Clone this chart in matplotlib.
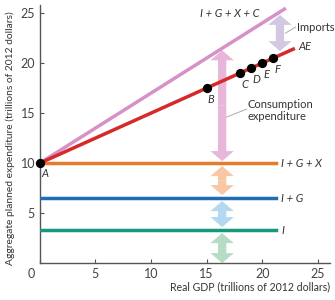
import numpy as np
import matplotlib.pyplot as plt
import matplotlib.transforms as mtransforms

# aggregate expenditure model (trillions of 2012 dollars)
gdp_end = 22.8
ae_intercept = 10.0
ae_slope = 0.5           # AE line
total_slope = 0.7        # I + G + X + C line
total_end = 22.0
invest = 3.3             # I
invest_gov = 6.5         # I + G
invest_gov_exp = 10.0    # I + G + X
flat_end = 21.2
pt_labels = ['B', 'C', 'D', 'E', 'F']
pt_gdp = [15, 18, 19, 20, 21]

red = '#d62a2a'
pink = '#d890c8'
orange = '#e57b2c'
blue = '#1f6db4'
green = '#17977e'
grey = '#555555'
txt = '#333333'

plt.rcParams['font.family'] = ['Lato', 'DejaVu Sans']
fig = plt.figure(figsize=(3.35, 3.0), dpi=100)
ax = fig.add_axes([0.119, 0.123, 0.866, 0.86])

def darrow(x, y0, y1, color, w=0.75, hw=2.1, hl=1.0):
    mid = (y0 + y1) / 2
    for end in (y0, y1):
        ax.arrow(x, mid, 0, end - mid, width=w, head_width=hw, head_length=hl,
                 length_includes_head=True, color=color, lw=0, zorder=1)

# horizontal lines
ax.plot([0, flat_end], [invest, invest], color=green, lw=2.5, zorder=3)
ax.plot([0, flat_end], [invest_gov, invest_gov], color=blue, lw=2.5, zorder=3)
ax.plot([0, flat_end], [invest_gov_exp, invest_gov_exp], color=orange, lw=2.5, zorder=3)

# sloped lines
ax.plot([0, total_end], [ae_intercept, ae_intercept + total_slope * total_end],
        color=pink, lw=2.5, zorder=3)
ax.plot([0, gdp_end], [ae_intercept, ae_intercept + ae_slope * gdp_end],
        color=red, lw=2.5, zorder=4)

# arrows
xa = 16.4
darrow(xa, ae_intercept + total_slope * xa - 0.2, invest_gov_exp + 0.2, '#e8b6d8')
darrow(xa, invest_gov_exp - 0.3, invest_gov + 0.3, '#f8c8a4')
darrow(xa, invest_gov - 0.3, invest + 0.3, '#b4d8f0')
darrow(xa, invest - 0.3, 0.0, '#b6dcc4')
xi = 21.6
darrow(xi, ae_intercept + total_slope * xi - 0.3, ae_intercept + ae_slope * xi + 0.4,
       '#d2c8e2')

# points
pt_ae = [ae_intercept + ae_slope * g for g in pt_gdp]
ax.scatter([0] + pt_gdp, [ae_intercept] + pt_ae, s=32, color='black', zorder=6,
           clip_on=False)
for lab, g, v in zip(pt_labels, pt_gdp, pt_ae):
    ax.text(g + 0.1, v - 0.55, lab, fontsize=8, style='italic', color=txt,
            ha='left', va='top')
ax.text(0.1, ae_intercept - 0.5, 'A', fontsize=8, style='italic', color=txt,
        ha='left', va='top')

# line labels
ax.text(flat_end + 0.5, invest_gov_exp, 'I + G + X', fontsize=8, style='italic',
        color=txt, va='center')
ax.text(flat_end + 0.5, invest_gov, 'I + G', fontsize=8, style='italic',
        color=txt, va='center')
ax.text(flat_end + 0.5, invest, 'I', fontsize=8, style='italic',
        color=txt, va='center')
ax.text(gdp_end + 0.5, ae_intercept + ae_slope * gdp_end + 0.3, 'AE', fontsize=8,
        style='italic', color=txt, va='center')
ax.text(17.1, 25.0, 'I + G + X + C', fontsize=8, style='italic',
        color=txt, ha='center', va='center')

# annotations with leader lines
ax.plot([22.1, 23.0], [23.0, 23.6], color='#aaaaaa', lw=0.7)
ax.text(23.1, 23.6, 'Imports', fontsize=8, color=txt, va='center')
ax.plot([16.8, 18.6], [14.6, 15.4], color='#aaaaaa', lw=0.7)
ax.text(18.7, 15.3, 'Consumption\nexpenditure', fontsize=8, color=txt,
        va='center', linespacing=1.1)

ax.set_xlim(0, 26.1)
ax.set_ylim(0, 25.8)
ax.set_xticks([0, 5, 10, 15, 20, 25])
ax.set_yticks([5, 10, 15, 20, 25])
ax.tick_params(direction='in', length=3, colors=grey, labelsize=9,
               labelcolor='#444444')
for s in ['top', 'right']:
    ax.spines[s].set_visible(False)
for s in ['left', 'bottom']:
    ax.spines[s].set_color(grey)
    ax.spines[s].set_linewidth(1.0)
lab0 = ax.get_xticklabels()[0]
lab0.set_transform(lab0.get_transform() +
                   mtransforms.ScaledTranslation(-9 / 100, 0, fig.dpi_scale_trans))

ax.set_xlabel('Real GDP (trillions of 2012 dollars)', fontsize=7.6, color=txt,
              loc='right', labelpad=1)
ax.set_ylabel('Aggregate planned expenditure (trillions of 2012 dollars)',
              fontsize=7.4, color=txt, ha='right')
ax.yaxis.set_label_coords(-0.085, 0.975)

fig.savefig('out.png', dpi=100)
